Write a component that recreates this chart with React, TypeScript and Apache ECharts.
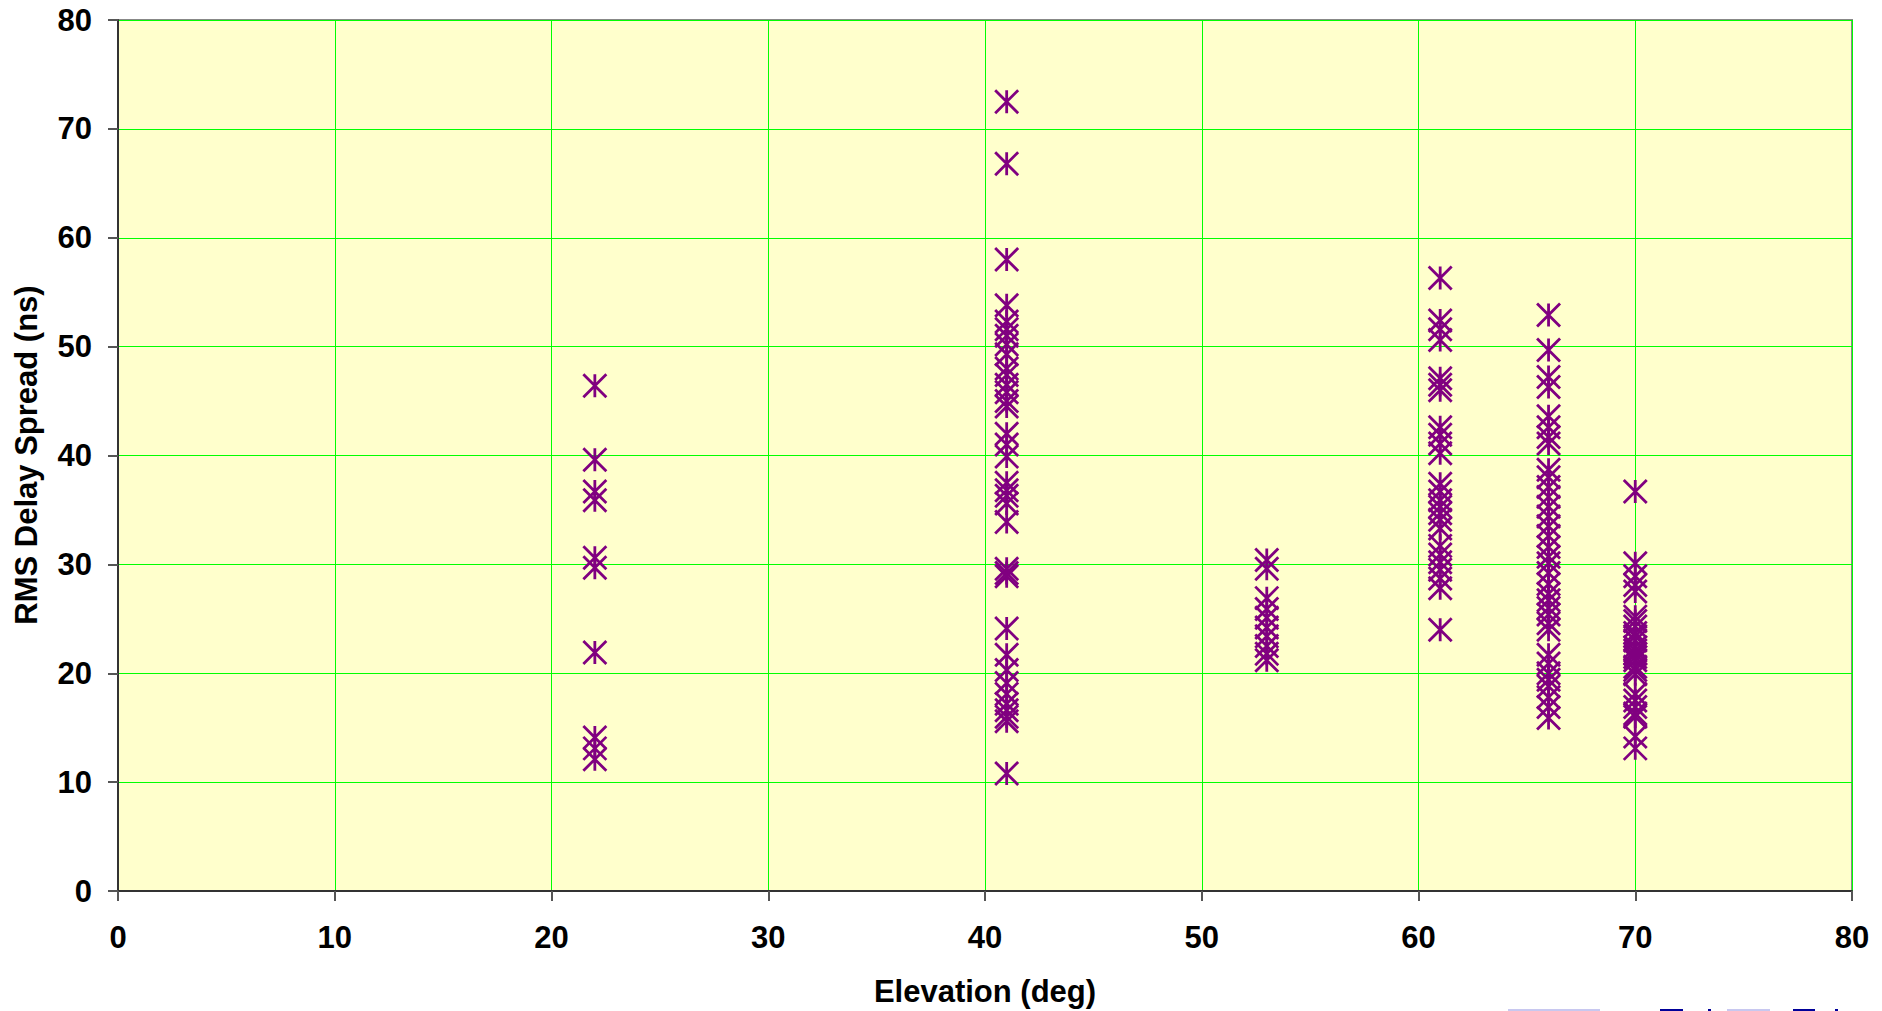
import React, { useEffect, useRef } from "react";
import * as echarts from "echarts";

// Elevation columns (deg)
const elevations = [22, 41, 53, 61, 66, 70];

// RMS delay spread values (ns) read for each elevation column
const delays22 = [46.4, 39.6, 36.7, 35.9, 30.6, 29.7, 21.9, 14.1, 13.1, 12.1];
const delays41 = [
  72.5, 66.8, 58.0, 53.8, 52.3, 51.6, 51.0, 50.2, 49.3, 48.0, 47.4, 46.5, 45.8,
  45.0, 44.5, 42.0, 41.0, 39.9, 37.5, 36.8, 36.3, 35.6, 33.9, 29.6, 29.2, 28.9,
  24.1, 21.7, 20.3, 19.1, 18.1, 17.2, 16.6, 16.0, 15.6, 10.8,
];
const delays53 = [30.4, 29.6, 26.9, 25.9, 25.1, 24.2, 23.4, 22.5, 21.8, 21.2];
const delays61 = [
  56.3, 52.4, 51.6, 50.6, 47.1, 46.5, 46.0, 42.6, 41.9, 41.1, 40.2, 37.4, 36.7,
  35.9, 35.3, 34.7, 34.1, 33.3, 31.7, 30.9, 30.2, 29.5, 28.7, 27.8, 24.0,
];
const delays66 = [
  52.9, 49.7, 47.2, 46.3, 43.6, 42.6, 41.7, 41.1, 38.7, 38.0, 37.1, 36.2, 35.3,
  34.4, 33.5, 32.6, 31.6, 30.7, 30.1, 29.2, 28.2, 27.3, 26.7, 26.0, 25.4, 24.6,
  24.0, 21.7, 20.9, 20.0, 19.4, 18.8, 17.8, 16.9, 15.9,
];
const delays70 = [
  36.7, 30.1, 28.9, 28.1, 27.5, 25.2, 24.8, 24.3, 23.7, 23.4, 23.0, 22.4, 22.1,
  21.8, 21.5, 21.2, 20.6, 20.3, 19.9, 18.1, 17.5, 16.9, 16.3, 16.0, 14.2, 13.1,
];

const delayColumns = [delays22, delays41, delays53, delays61, delays66, delays70];

// Axis settings
const xMin = 0;
const xMax = 80;
const yMin = 0;
const yMax = 80;
const tickStep = 10;

const xTitle = "Elevation (deg)";
const yTitle = "RMS Delay Spread (ns)";

const FONT = "'Liberation Sans', Arial, sans-serif";

export default function App() {
  const ref = useRef<HTMLDivElement>(null);

  useEffect(() => {
    if (!ref.current) return;
    const chart = echarts.init(ref.current, undefined, { renderer: "svg" });

    const points: number[][] = [];
    elevations.forEach((el, i) => {
      delayColumns[i].forEach((v) => points.push([el, v]));
    });

    const axisLabelStyle = {
      color: "#000",
      fontSize: 31,
      fontWeight: "bold" as const,
      fontFamily: FONT,
    };

    // small cut-off fragments at the very bottom right edge of the picture
    const edgeBits = [
      { x: 1508, w: 92, c: "#c8c8f0" },
      { x: 1660, w: 23, c: "#000099" },
      { x: 1708, w: 3, c: "#000099" },
      { x: 1727, w: 43, c: "#c8c8f0" },
      { x: 1793, w: 22, c: "#000099" },
      { x: 1835, w: 3, c: "#000099" },
    ];

    chart.setOption({
      animation: false,
      backgroundColor: "#ffffff",
      grid: {
        left: 118,
        top: 20,
        width: 1734,
        height: 871,
        show: true,
        backgroundColor: "#FFFFCC",
        borderColor: "#888888",
        borderWidth: 2,
      },
      xAxis: {
        type: "value",
        min: xMin,
        max: xMax,
        interval: tickStep,
        axisLine: { show: true, onZero: false, lineStyle: { color: "#333", width: 2 } },
        axisTick: { show: true, length: 10, lineStyle: { color: "#555", width: 2 } },
        axisLabel: { ...axisLabelStyle, margin: 31 },
        splitLine: { show: true, lineStyle: { color: "#00FF00", width: 1 } },
      },
      yAxis: {
        type: "value",
        min: yMin,
        max: yMax,
        interval: tickStep,
        axisLine: { show: true, onZero: false, lineStyle: { color: "#333", width: 2 } },
        axisTick: { show: true, length: 10, lineStyle: { color: "#555", width: 2 } },
        axisLabel: { ...axisLabelStyle, margin: 26 },
        splitLine: { show: true, lineStyle: { color: "#00FF00", width: 1 } },
      },
      graphic: [
        {
          type: "text",
          x: 985,
          y: 991,
          style: {
            text: xTitle,
            fill: "#000",
            font: `bold 31px ${FONT}`,
            align: "center",
            verticalAlign: "middle",
          },
        },
        {
          type: "text",
          x: 26,
          y: 455,
          rotation: Math.PI / 2,
          style: {
            text: yTitle,
            fill: "#000",
            font: `bold 31px ${FONT}`,
            align: "center",
            verticalAlign: "middle",
          },
        },
        ...edgeBits.map((b) => ({
          type: "rect",
          shape: { x: b.x, y: 1009, width: b.w, height: 2 },
          style: { fill: b.c },
          silent: true,
        })),
      ],
      series: [
        {
          type: "scatter",
          data: points,
          symbol: "path://M0,0 L20,20 M20,0 L0,20 M10,0 L10,20",
          symbolSize: 23,
          itemStyle: {
            color: "rgba(0,0,0,0)",
            borderColor: "#800080",
            borderWidth: 2.8,
            opacity: 1,
          },
          emphasis: { disabled: true },
        },
      ],
    });

    return () => chart.dispose();
  }, []);

  return (
    <div
      ref={ref}
      style={{ position: "absolute", left: 0, top: 0, width: 1882, height: 1011, background: "#fff" }}
    />
  );
}
